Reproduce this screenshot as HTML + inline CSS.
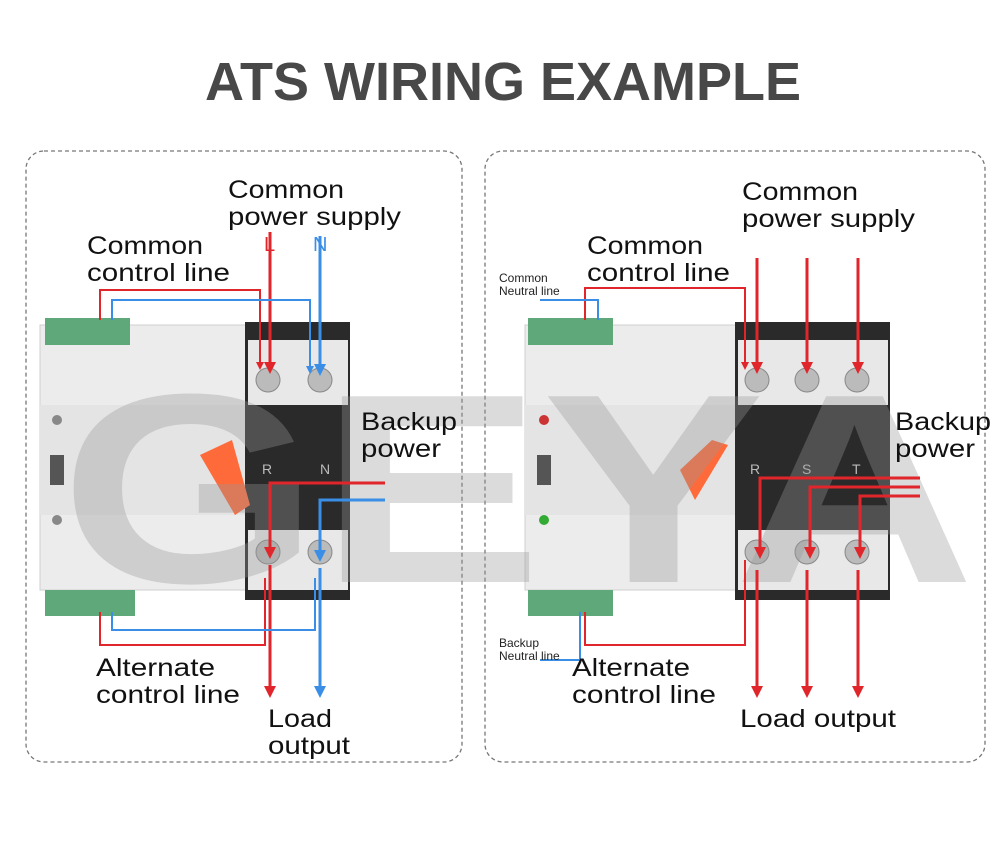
<!DOCTYPE html>
<html><head><meta charset="utf-8"><style>
html,body{margin:0;padding:0;background:#fff;}
svg{display:block;font-family:"Liberation Sans",Arial,sans-serif;}
</style></head><body>
<svg width="1000" height="844" viewBox="0 0 1000 844" xmlns="http://www.w3.org/2000/svg">
<defs>
<marker id="ar" markerWidth="4" markerHeight="4" refX="2" refY="2" orient="auto" markerUnits="strokeWidth"><path d="M0,0 L4,2 L0,4 z" fill="#e0262b"/></marker>
<marker id="ab" markerWidth="4" markerHeight="4" refX="2" refY="2" orient="auto" markerUnits="strokeWidth"><path d="M0,0 L4,2 L0,4 z" fill="#3a8ee6"/></marker>
</defs>
<rect width="1000" height="844" fill="#fff"/>
<text x="503" y="100" text-anchor="middle" font-size="54" font-weight="bold" fill="#484848">ATS WIRING EXAMPLE</text>
<rect x="26" y="151" width="436" height="611" rx="18" fill="none" stroke="#777" stroke-width="1.3" stroke-dasharray="4,3"/>
<rect x="485" y="151" width="500" height="611" rx="18" fill="none" stroke="#777" stroke-width="1.3" stroke-dasharray="4,3"/>

<!-- LEFT DEVICE -->
<rect x="40" y="325" width="210" height="265" fill="#ececec" stroke="#cfcfcf"/>
<rect x="40" y="405" width="210" height="110" fill="#e4e4e4"/>
<rect x="45" y="318" width="85" height="27" fill="#5fa87a"/>
<rect x="45" y="590" width="90" height="26" fill="#5fa87a"/>
<rect x="245" y="322" width="105" height="278" fill="#2a2a2a"/>
<rect x="248" y="340" width="100" height="65" fill="#e8e8e8"/>
<rect x="248" y="530" width="100" height="60" fill="#e8e8e8"/>
<circle cx="268" cy="380" r="12" fill="#bbb" stroke="#888"/>
<circle cx="320" cy="380" r="12" fill="#bbb" stroke="#888"/>
<circle cx="268" cy="552" r="12" fill="#bbb" stroke="#888"/>
<circle cx="320" cy="552" r="12" fill="#bbb" stroke="#888"/>
<text x="262" y="474" font-size="14" fill="#bbb">R</text>
<text x="320" y="474" font-size="14" fill="#bbb">N</text>
<path d="M200,455 L232,440 L250,505 L235,515 Z" fill="#ff6a3a"/>
<circle cx="57" cy="420" r="5" fill="#888"/>
<circle cx="57" cy="520" r="5" fill="#888"/>
<rect x="50" y="455" width="14" height="30" fill="#555"/>

<!-- RIGHT DEVICE -->
<rect x="525" y="325" width="215" height="265" fill="#ececec" stroke="#cfcfcf"/>
<rect x="525" y="405" width="215" height="110" fill="#e4e4e4"/>
<rect x="528" y="318" width="85" height="27" fill="#5fa87a"/>
<rect x="528" y="590" width="85" height="26" fill="#5fa87a"/>
<rect x="735" y="322" width="155" height="278" fill="#2a2a2a"/>
<rect x="738" y="340" width="150" height="65" fill="#e8e8e8"/>
<rect x="738" y="530" width="150" height="60" fill="#e8e8e8"/>
<circle cx="757" cy="380" r="12" fill="#bbb" stroke="#888"/>
<circle cx="807" cy="380" r="12" fill="#bbb" stroke="#888"/>
<circle cx="857" cy="380" r="12" fill="#bbb" stroke="#888"/>
<circle cx="757" cy="552" r="12" fill="#bbb" stroke="#888"/>
<circle cx="807" cy="552" r="12" fill="#bbb" stroke="#888"/>
<circle cx="857" cy="552" r="12" fill="#bbb" stroke="#888"/>
<text x="750" y="474" font-size="14" fill="#bbb">R</text>
<text x="802" y="474" font-size="14" fill="#bbb">S</text>
<text x="852" y="474" font-size="14" fill="#bbb">T</text>
<path d="M680,470 L712,440 L728,445 L695,500 Z" fill="#ff6a3a"/>
<circle cx="544" cy="420" r="5" fill="#c33"/>
<circle cx="544" cy="520" r="5" fill="#3a3"/>
<rect x="537" y="455" width="14" height="30" fill="#555"/>

<!-- watermark -->
<text x="60" y="582" font-size="270" font-weight="bold" fill="#999" fill-opacity="0.35" textLength="915" lengthAdjust="spacingAndGlyphs">GEYA</text>

<!-- LEFT WIRES -->
<g fill="none" stroke-width="3">
<path d="M270,232 V368" stroke="#e0262b" marker-end="url(#ar)"/>
<path d="M320,236 V370" stroke="#3a8ee6" marker-end="url(#ab)"/>
<path d="M100,320 V290 H260 V366" stroke="#e0262b" stroke-width="2" marker-end="url(#ar)"/>
<path d="M112,320 V300 H310 V370" stroke="#3a8ee6" stroke-width="2" marker-end="url(#ab)"/>
<path d="M385,483 H270 V553" stroke="#e0262b" marker-end="url(#ar)"/>
<path d="M385,500 H320 V556" stroke="#3a8ee6" marker-end="url(#ab)"/>
<path d="M270,565 V692" stroke="#e0262b" marker-end="url(#ar)"/>
<path d="M320,568 V692" stroke="#3a8ee6" marker-end="url(#ab)"/>
<path d="M100,612 V645 H265 V578" stroke="#e0262b" stroke-width="2"/>
<path d="M112,612 V630 H315 V578" stroke="#3a8ee6" stroke-width="2"/>
</g>
<!-- RIGHT WIRES -->
<g fill="none" stroke-width="3">
<path d="M757,258 V368" stroke="#e0262b" marker-end="url(#ar)"/>
<path d="M807,258 V368" stroke="#e0262b" marker-end="url(#ar)"/>
<path d="M858,258 V368" stroke="#e0262b" marker-end="url(#ar)"/>
<path d="M585,320 V288 H745 V366" stroke="#e0262b" stroke-width="2" marker-end="url(#ar)"/>
<path d="M540,300 H598 V320" stroke="#3a8ee6" stroke-width="2"/>
<path d="M920,478 H760 V553" stroke="#e0262b" marker-end="url(#ar)"/>
<path d="M920,487 H810 V553" stroke="#e0262b" marker-end="url(#ar)"/>
<path d="M920,496 H860 V553" stroke="#e0262b" marker-end="url(#ar)"/>
<path d="M757,570 V692" stroke="#e0262b" marker-end="url(#ar)"/>
<path d="M807,570 V692" stroke="#e0262b" marker-end="url(#ar)"/>
<path d="M858,570 V692" stroke="#e0262b" marker-end="url(#ar)"/>
<path d="M585,612 V645 H745 V560" stroke="#e0262b" stroke-width="2"/>
<path d="M540,660 H580 V612" stroke="#3a8ee6" stroke-width="2"/>
</g>

<!-- LABELS -->
<g font-size="25" fill="#111">
<text x="228" y="198" textLength="116" lengthAdjust="spacingAndGlyphs">Common</text>
<text x="228" y="225" textLength="173" lengthAdjust="spacingAndGlyphs">power supply</text>
<text x="87" y="254" textLength="116" lengthAdjust="spacingAndGlyphs">Common</text>
<text x="87" y="281" textLength="143" lengthAdjust="spacingAndGlyphs">control line</text>
<text x="361" y="430" textLength="96" lengthAdjust="spacingAndGlyphs">Backup</text>
<text x="361" y="457" textLength="80" lengthAdjust="spacingAndGlyphs">power</text>
<text x="96" y="676" textLength="119" lengthAdjust="spacingAndGlyphs">Alternate</text>
<text x="96" y="703" textLength="144" lengthAdjust="spacingAndGlyphs">control line</text>
<text x="268" y="727" textLength="64" lengthAdjust="spacingAndGlyphs">Load</text>
<text x="268" y="754" textLength="82" lengthAdjust="spacingAndGlyphs">output</text>
<text x="742" y="200" textLength="116" lengthAdjust="spacingAndGlyphs">Common</text>
<text x="742" y="227" textLength="173" lengthAdjust="spacingAndGlyphs">power supply</text>
<text x="587" y="254" textLength="116" lengthAdjust="spacingAndGlyphs">Common</text>
<text x="587" y="281" textLength="143" lengthAdjust="spacingAndGlyphs">control line</text>
<text x="895" y="430" textLength="96" lengthAdjust="spacingAndGlyphs">Backup</text>
<text x="895" y="457" textLength="80" lengthAdjust="spacingAndGlyphs">power</text>
<text x="572" y="676" textLength="118" lengthAdjust="spacingAndGlyphs">Alternate</text>
<text x="572" y="703" textLength="144" lengthAdjust="spacingAndGlyphs">control line</text>
<text x="740" y="727" textLength="156" lengthAdjust="spacingAndGlyphs">Load output</text>
</g>
<text x="264" y="251" font-size="20" fill="#e0262b">L</text>
<text x="313" y="251" font-size="20" fill="#3a8ee6">N</text>
<g font-size="12" fill="#222">
<text x="499" y="282">Common</text>
<text x="499" y="295">Neutral line</text>
<text x="499" y="647">Backup</text>
<text x="499" y="660">Neutral line</text>
</g>
</svg>
</body></html>
